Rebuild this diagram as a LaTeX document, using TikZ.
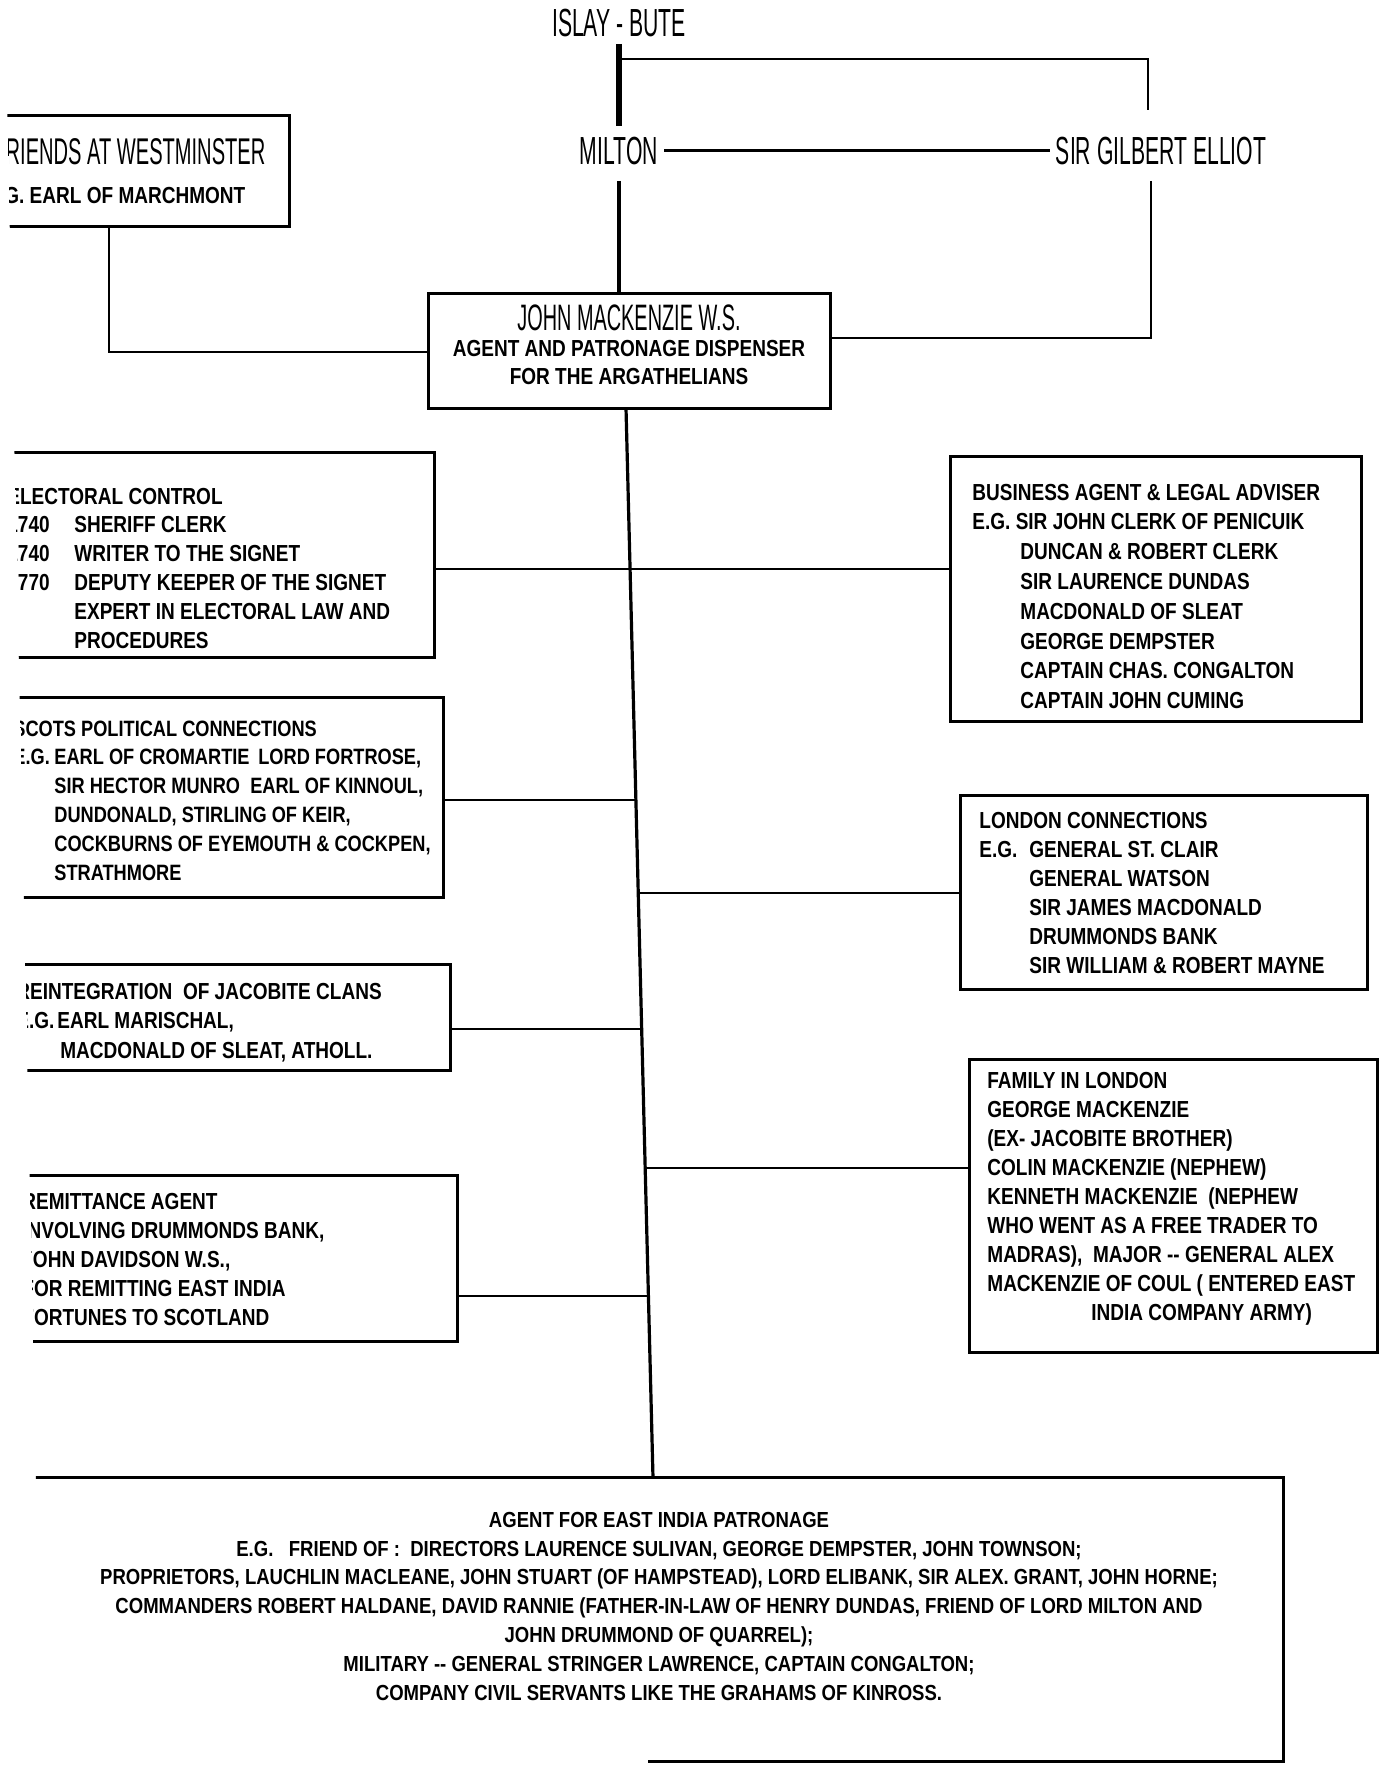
\documentclass[tikz,border=0pt]{standalone}
\usepackage{fontspec}
\setmainfont{Liberation Sans}
\newfontfamily\bodyf{Liberation Sans}[FakeStretch=0.82]
\newfontfamily\titlef{Liberation Sans}[FakeStretch=0.54]
\newfontfamily\eicf{Liberation Sans}[FakeStretch=0.85]
\usetikzlibrary{calc,fit}
\begin{document}
\begin{tikzpicture}[x=0.5pt,y=-0.5pt,
  boxl/.style={draw, line width=1.5pt, inner sep=0pt},
  conn/.style={line width=1.3pt},
  heavy/.style={line width=2.6pt},
  txt/.style={font=\bodyf\bfseries\fontsize{11.6}{#1}\selectfont, align=left, inner sep=0pt, anchor=base west},
  txt/.default=14.4pt,
  ttl/.style={font=\titlef\fontsize{#1}{#1}\selectfont, inner sep=3pt, anchor=base},
  eictxt/.style={font=\eicf\bfseries\fontsize{10.9}{14.4}\selectfont, align=center, inner sep=0pt, anchor=base}
]
\fill[white] (0,0) rectangle (1387,1766);
\useasboundingbox (0,0) rectangle (1387,1766);
\begin{scope}
\clip (5,0) -- (1387,0) -- (1387,1766) -- (42,1766) -- cycle;

% top names
\node[ttl=19.6] (islay) at (619,37) {ISLAY - BUTE};
\node[ttl=19.6] (milton) at (619,164) {MILTON};
\node[ttl=19.6] (gilbert) at (1161,164) {SIR GILBERT ELLIOT};
\coordinate (ib) at (619,126);
\coordinate (tl) at (619,59);
\coordinate (tr) at (1148,110);
\draw[heavy] (islay.south) -- (ib);
\draw[conn] (tl) -| (tr);
\draw[conn] (milton.east) -- (gilbert.west);

% central box
\node[boxl, fit={(428,293) (830,408)}] (jm) {};
\node[ttl=18.4, inner sep=0pt] (jm1) at (629,330) {JOHN MACKENZIE W.S.};
\node[txt, anchor=base] (jm2) at (629,356) {AGENT AND PATRONAGE DISPENSER};
\node[txt, anchor=base] (jm3) at (629,384) {FOR THE ARGATHELIANS};
\draw[line width=2pt, shorten <=5pt] (milton.south) -- (milton.south |- jm.north);

\coordinate (gk) at (1151,338);
\draw[conn, shorten <=5pt] (gk |- gilbert.south) |- (jm.east |- gk);

% westminster
\node[boxl, fit={(-20,116) (289,226)}] (west) {};
\node[ttl=18.6, anchor=base west, inner sep=0pt] (west1) at (-7,164) {FRIENDS AT WESTMINSTER};
\node[txt] (west2) at (-14,203) {E.G. EARL OF MARCHMONT};
\coordinate (wk) at (109,352);
\draw[conn] (wk |- west.south) |- (jm.west |- wk);

% trunk
\coordinate (trtop) at (626,408);
\coordinate (trbot) at (653,1478);
\draw[line width=1.6pt] (trtop) -- (trbot);

% boxes
\node[boxl, fit={(-20,452) (434,657)}] (elec) {};
\node[boxl, fit={(-20,697) (443,897)}] (scots) {};
\node[boxl, fit={(-20,964) (450,1070)}] (reint) {};
\node[boxl, fit={(-20,1175) (457,1341)}] (remit) {};
\node[boxl, fit={(950,456) (1361,721)}] (bus) {};
\node[boxl, fit={(960,795) (1367,989)}] (lond) {};
\node[boxl, fit={(969,1059) (1377,1352)}] (fam) {};
\node[inner sep=0pt, fit={(-20,1478) (1283,1761)}] (eic) {};
\draw[boxl] (eic.north west) -- (eic.north east) -- (eic.south east) -- ++(-635,0);

% connectors
\coordinate (k1) at ($(trtop)!0.1505!(trbot)$);
\coordinate (k2) at ($(trtop)!0.3664!(trbot)$);
\coordinate (k3) at ($(trtop)!0.4533!(trbot)$);
\coordinate (k4) at ($(trtop)!0.5804!(trbot)$);
\coordinate (k5) at ($(trtop)!0.7103!(trbot)$);
\coordinate (k6) at ($(trtop)!0.8299!(trbot)$);
\draw[conn] (elec.east |- k1) -- (bus.west |- k1);
\draw[conn] (scots.east |- k2) -- (k2);
\draw[conn] (k3) -- (lond.west |- k3);
\draw[conn] (reint.east |- k4) -- (k4);
\draw[conn] (k5) -- (fam.west |- k5);
\draw[conn] (remit.east |- k6) -- (k6);

% texts left (anchor = baseline of last line)
\node[txt=14.4pt] (elect) at (7,648) {ELECTORAL CONTROL\\
\makebox[33.5pt][l]{1740}SHERIFF CLERK\\
\makebox[33.5pt][l]{1740}WRITER TO THE SIGNET\\
\makebox[33.5pt][l]{1770}DEPUTY KEEPER OF THE SIGNET\\
\hspace*{33.5pt}EXPERT IN ELECTORAL LAW AND\\
\hspace*{33.5pt}PROCEDURES};

\node[txt=14.4pt, font=\bodyf\bfseries\fontsize{11.1}{14.4}\selectfont] (scotst) at (13,880) {SCOTS POLITICAL CONNECTIONS\\
\makebox[20.5pt][l]{E.G.}EARL OF CROMARTIE\ \,LORD FORTROSE,\\
\hspace*{20.5pt}SIR HECTOR MUNRO\ \ EARL OF KINNOUL,\\
\hspace*{20.5pt}DUNDONALD, STIRLING OF KEIR,\\
\hspace*{20.5pt}COCKBURNS OF EYEMOUTH \& COCKPEN,\\
\hspace*{20.5pt}STRATHMORE};

\node[txt=14.75pt] (reintt) at (16,1058) {REINTEGRATION\ \ OF JACOBITE CLANS\\
\makebox[20.5pt][l]{E.G.}EARL MARISCHAL,\\
\hspace*{22pt}MACDONALD OF SLEAT, ATHOLL.};

\node[txt=14.5pt] (remitt) at (22,1325) {REMITTANCE AGENT\\
INVOLVING DRUMMONDS BANK,\\
JOHN DAVIDSON W.S.,\\
FOR REMITTING EAST INDIA\\
FORTUNES TO SCOTLAND};

% texts right
\node[txt=14.9pt] (bust) at (972,708.6) {BUSINESS AGENT \& LEGAL ADVISER\\
E.G. SIR JOHN CLERK OF PENICUIK\\
\hspace*{24pt}DUNCAN \& ROBERT CLERK\\
\hspace*{24pt}SIR LAURENCE DUNDAS\\
\hspace*{24pt}MACDONALD OF SLEAT\\
\hspace*{24pt}GEORGE DEMPSTER\\
\hspace*{24pt}CAPTAIN CHAS. CONGALTON\\
\hspace*{24pt}CAPTAIN JOHN CUMING};

\node[txt=14.55pt] (londt) at (979,973.5) {LONDON CONNECTIONS\\
\makebox[25pt][l]{E.G.}GENERAL ST. CLAIR\\
\hspace*{25pt}GENERAL WATSON\\
\hspace*{25pt}SIR JAMES MACDONALD\\
\hspace*{25pt}DRUMMONDS BANK\\
\hspace*{25pt}SIR WILLIAM \& ROBERT MAYNE};

\node[txt=14.5pt] (famt) at (987,1320) {FAMILY IN LONDON\\
GEORGE MACKENZIE\\
(EX- JACOBITE BROTHER)\\
COLIN MACKENZIE (NEPHEW)\\
KENNETH MACKENZIE\ \ (NEPHEW\\
WHO WENT AS A FREE TRADER TO\\
MADRAS),\ \ MAJOR -- GENERAL ALEX\\
MACKENZIE OF COUL ( ENTERED EAST\\
\hspace*{52pt}INDIA COMPANY ARMY)};

% bottom text
\node[eictxt] (eict) at (659,1700) {AGENT FOR EAST INDIA PATRONAGE\\
E.G.\ \ \ FRIEND OF :\ \ DIRECTORS LAURENCE SULIVAN, GEORGE DEMPSTER, JOHN TOWNSON;\\
PROPRIETORS, LAUCHLIN MACLEANE, JOHN STUART (OF HAMPSTEAD), LORD ELIBANK, SIR ALEX. GRANT, JOHN HORNE;\\
COMMANDERS ROBERT HALDANE, DAVID RANNIE (FATHER-IN-LAW OF HENRY DUNDAS, FRIEND OF LORD MILTON AND\\
JOHN DRUMMOND OF QUARREL);\\
MILITARY -- GENERAL STRINGER LAWRENCE, CAPTAIN CONGALTON;\\
COMPANY CIVIL SERVANTS LIKE THE GRAHAMS OF KINROSS.};
\end{scope}
\end{tikzpicture}
\end{document}
